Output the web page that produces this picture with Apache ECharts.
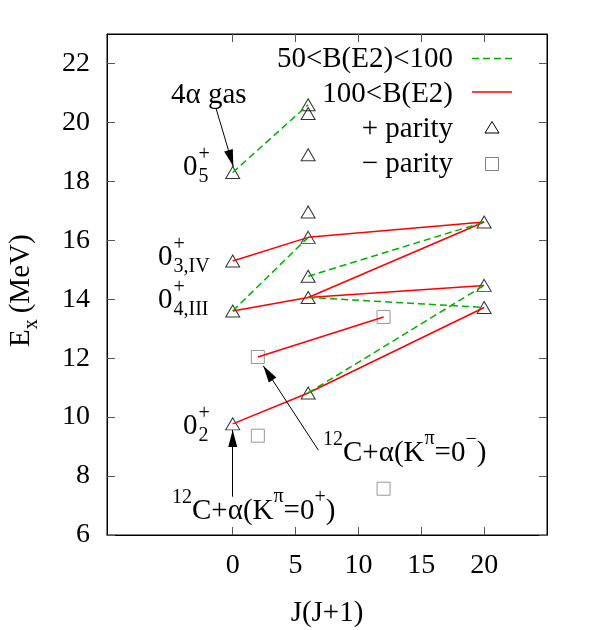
<!DOCTYPE html>
<html>
<head>
<meta charset="utf-8">
<script src="https://cdn.jsdelivr.net/npm/echarts@6/dist/echarts.min.js"></script>
<style>
  html, body { margin: 0; padding: 0; background: #fff; }
  #chart { width: 600px; height: 630px; }
</style>
</head>
<body>
<div id="chart"></div>
<script>
// tick labels
const xTicks = [0, 5, 10, 15, 20];
const yTicks = [6, 8, 10, 12, 14, 16, 18, 20, 22];

// levels: [J(J+1), Ex (MeV)]
const plusParity = [
  [0, 18.3], [0, 15.3], [0, 13.6], [0, 9.77],
  [6, 20.6], [6, 20.3], [6, 18.9], [6, 16.96], [6, 16.1], [6, 14.78], [6, 14.06], [6, 10.82],
  [20, 16.62], [20, 14.47], [20, 13.72]
];
const minusParity = [[2, 12.04], [2, 9.37], [12, 13.4], [12, 7.57]];

// transitions, 100<B(E2)
const strongLinks = [
  [[0, 9.77], [6, 10.82], [20, 13.72]],
  [[0, 13.6], [6, 14.06], [20, 14.47]],
  [[6, 14.06], [20, 16.62]],
  [[0, 15.3], [6, 16.1], [20, 16.62]],
  [[2, 12.04], [12, 13.4]]
];
// transitions, 50<B(E2)<100
const weakLinks = [
  [[0, 18.3], [6, 20.6]],
  [[0, 13.6], [6, 16.1]],
  [[6, 14.78], [20, 16.62]],
  [[6, 14.06], [20, 13.72]],
  [[6, 10.82], [20, 14.47]]
];

// annotation arrows [from, to]
const arrows = [
  [[-1.33, 20.48], [0.05, 18.5]],
  [[0, 7.3], [0, 9.56]],
  [[6.81, 8.88], [2.43, 11.74]]
];

const FONT = '"Liberation Serif", "Times New Roman", serif';
const BIG = 29, SMALL = 20;
const ctx = document.createElement('canvas').getContext('2d');
function tw(t, s) { ctx.font = s + 'px ' + FONT; return ctx.measureText(t).width; }
function txt(t, x, y, s, align) {
  return { type: 'text', x: x, y: y, silent: true,
    style: { text: t, fontFamily: FONT, fontSize: s, fill: '#000',
      textAlign: align || 'left', textVerticalAlign: 'middle' } };
}
// chain pieces [text, size, dy] left to right; a number = blank gap
function chain(x, y, parts) {
  const out = [];
  let cx = x;
  parts.forEach(p => {
    if (typeof p === 'number') { cx += p; return; }
    out.push(txt(p[0], cx, y + (p[2] || 0), p[1]));
    cx += tw(p[0], p[1]);
  });
  return out;
}
function stateLabel(x, y, sub) {
  const w0 = tw('0', BIG);
  return [txt('0', x, y, BIG), txt('+', x + w0 + 1, y - 12, SMALL), txt(sub, x + w0 + 1, y + 10, SMALL)];
}

const series = [];
strongLinks.forEach(seg => series.push({
  name: '100<B(E2)', type: 'line', data: seg, symbol: 'none', silent: true, z: 3,
  lineStyle: { color: '#ff0000', width: 1.5 }
}));
weakLinks.forEach(seg => series.push({
  name: '50<B(E2)<100', type: 'line', data: seg, symbol: 'none', silent: true, z: 3,
  lineStyle: { color: '#00b000', width: 1.5, type: [7, 4] }
}));
series.push({
  name: '+ parity', type: 'scatter', data: plusParity, symbol: 'triangle', symbolSize: [14, 12], z: 2,
  itemStyle: { color: 'rgba(0,0,0,0)', borderColor: '#000', borderWidth: 1 }
});
series.push({
  name: '− parity', type: 'scatter', data: minusParity, symbol: 'rect', symbolSize: 13, z: 2,
  itemStyle: { color: 'rgba(0,0,0,0)', borderColor: '#808080', borderWidth: 1 }
});
series.push({
  name: 'arrows', type: 'line', data: [], color: '#000', z: 4,
  markLine: {
    silent: true, animation: false, symbol: ['none', 'triangle'],
    label: { show: false }, emphasis: { disabled: true },
    lineStyle: { color: '#000', width: 1, type: 'solid' },
    data: arrows.map(a => [{ coord: a[0] }, { coord: a[1], symbolSize: [9, 17], symbolOffset: [0, 8.5] }])
  }
});

const tickStyle = { show: true, inside: true, length: 8, lineStyle: { color: '#555', width: 1 } };
const axisLabel = { color: '#000', fontFamily: FONT, fontSize: 28, margin: 17 };
const axisLine = { show: true, onZero: false, lineStyle: { color: '#000', width: 1 } };

const graphic = [].concat(
  // legend
  txt('50<B(E2)<100', 453, 59, BIG, 'right'),
  txt('100<B(E2)', 453, 94, BIG, 'right'),
  txt('+ parity', 453, 129.5, BIG, 'right'),
  txt('− parity', 453, 164, BIG, 'right'),
  [
    { type: 'line', silent: true, shape: { x1: 472, y1: 58.5, x2: 512, y2: 58.5 },
      style: { stroke: '#00b000', lineWidth: 1.5, lineDash: [7, 4] } },
    { type: 'line', silent: true, shape: { x1: 472, y1: 92, x2: 512, y2: 92 },
      style: { stroke: '#ff0000', lineWidth: 1.5 } },
    { type: 'polygon', silent: true, shape: { points: [[492, 121.5], [499, 133], [485, 133]] },
      style: { fill: 'none', stroke: '#000', lineWidth: 1 } },
    { type: 'rect', silent: true, shape: { x: 485.5, y: 157.5, width: 13, height: 13 },
      style: { fill: 'none', stroke: '#808080', lineWidth: 1 } }
  ],
  // annotations
  txt('4α gas', 171, 95, BIG),
  stateLabel(183, 167, '5'),
  stateLabel(158, 257, '3,IV'),
  stateLabel(158, 300, '4,III'),
  stateLabel(183, 426, '2'),
  chain(172, 511, [['12', SMALL, -13], ['C+α(K', BIG], ['π', SMALL, -14], ['=0', BIG], ['+', SMALL, -13], [')', BIG]]),
  chain(323, 453, [['12', SMALL, -13], ['C+α(K', BIG], ['π', SMALL, -14], ['=0', BIG], ['−', SMALL, -13], [')', BIG]]),
  // axis titles
  [
    txt('J(J+1)', 327, 613, BIG, 'center'),
    { type: 'group', x: 21, y: 347, rotation: Math.PI / 2, silent: true,
      children: chain(0, 0, [['E', BIG], ['x', SMALL, 11], 6, ['(MeV)', BIG]]) }
  ]
);

const chart = echarts.init(document.getElementById('chart'), null, { renderer: 'canvas' });
chart.setOption({
  animation: false,
  grid: { left: 107, top: 34, width: 440, height: 501, show: true, borderColor: '#000', borderWidth: 1 },
  xAxis: [
    { type: 'value', min: -10, max: 25, position: 'bottom', axisLine: axisLine,
      axisTick: Object.assign({ customValues: xTicks }, tickStyle),
      axisLabel: Object.assign({ customValues: xTicks }, axisLabel),
      splitLine: { show: false } },
    { type: 'value', min: -10, max: 25, position: 'top', axisLine: axisLine,
      axisTick: Object.assign({ customValues: xTicks }, tickStyle),
      axisLabel: { show: false }, splitLine: { show: false } }
  ],
  yAxis: [
    { type: 'value', min: 6, max: 23, position: 'left', axisLine: axisLine,
      axisTick: Object.assign({ customValues: yTicks }, tickStyle),
      axisLabel: Object.assign({ customValues: yTicks }, axisLabel),
      splitLine: { show: false } },
    { type: 'value', min: 6, max: 23, position: 'right', axisLine: axisLine,
      axisTick: Object.assign({ customValues: yTicks }, tickStyle),
      axisLabel: { show: false }, splitLine: { show: false } }
  ],
  series: series,
  graphic: graphic
});
</script>
</body>
</html>
